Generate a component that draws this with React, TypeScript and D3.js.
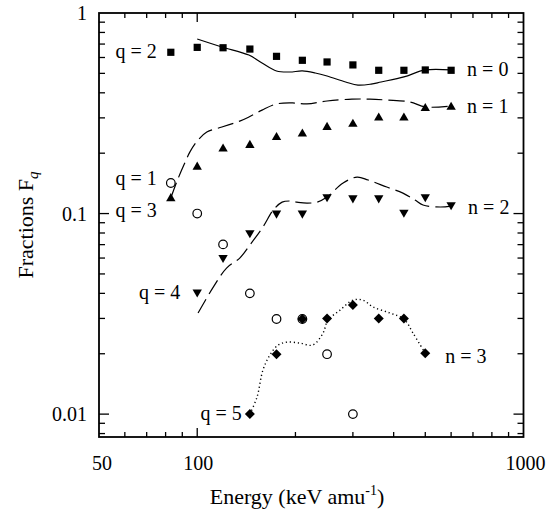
import React from 'react';
import * as d3 from 'd3';

const energies = [83, 100, 120, 145, 175, 210, 250, 300, 360, 430, 500, 600];
const fracN0 = [0.637, 0.674, 0.671, 0.661, 0.608, 0.581, 0.570, 0.551, 0.518, 0.518, 0.520, 0.518];
const fracN1 = [0.1205, 0.173, 0.213, 0.222, 0.243, 0.253, 0.273, 0.283, 0.304, 0.304, 0.339, 0.344];
const energiesN2 = [100, 120, 145, 175, 210, 250, 300, 360, 430, 500, 600];
const fracN2 = [0.040, 0.0595, 0.079, 0.099, 0.099, 0.1195, 0.118, 0.118, 0.100, 0.1195, 0.109];
const energiesN3 = [145, 175, 210, 250, 300, 360, 430, 500];
const fracN3 = [0.0100, 0.0199, 0.0298, 0.0300, 0.0350, 0.0300, 0.0300, 0.0201];
const energiesQ = [83, 100, 120, 145, 175, 210, 250, 300];
const fracQ = [0.142, 0.100, 0.0702, 0.040, 0.0298, 0.0298, 0.0199, 0.0100];

// theory curves
const curveN0E = [100, 119, 144, 158, 175, 192, 210, 230, 250, 285, 311, 341, 366, 430, 500, 600];
const curveN0F = [0.742, 0.677, 0.617, 0.563, 0.514, 0.508, 0.514, 0.502, 0.485, 0.453, 0.437, 0.442, 0.453, 0.480, 0.520, 0.520];
const curveN1E = [83, 87, 91, 95, 100, 107, 119, 135, 144, 158, 175, 196, 217, 250, 298, 338, 381, 449, 500, 600];
const curveN1F = [0.1195, 0.147, 0.1745, 0.203, 0.230, 0.255, 0.270, 0.289, 0.303, 0.328, 0.352, 0.356, 0.352, 0.364, 0.372, 0.372, 0.368, 0.360, 0.340, 0.344];
const curveN2E = [100.6, 112, 123, 135, 145, 159, 171, 182, 192, 202, 217, 233, 250, 280, 309, 334, 381, 427, 465, 492, 555, 600];
const curveN2F = [0.0319, 0.043, 0.0535, 0.060, 0.0697, 0.0857, 0.104, 0.114, 0.1155, 0.114, 0.1128, 0.114, 0.121, 0.142, 0.152, 0.147, 0.1356, 0.1265, 0.1168, 0.1103, 0.1078, 0.109];
const curveN3E = [145, 152.5, 159, 167, 177, 188.5, 206.5, 226, 243, 251.5, 274, 300, 322, 346, 390, 430, 458.5, 500];
const curveN3F = [0.0100, 0.01216, 0.01658, 0.0197, 0.0221, 0.02286, 0.0226, 0.0221, 0.02535, 0.0294, 0.033, 0.037, 0.037, 0.0342, 0.0319, 0.0298, 0.02535, 0.0201];

const xTickLabels = [50, 100, 1000];
const yTickLabels = [0.01, 0.1, 1];

const W = 546;
const H = 514;
const left = 99, right = 523.5, top = 13, bottom = 437;
const FONT = "'Liberation Serif', 'DejaVu Serif', serif";

const x = d3.scaleLog().domain([50, 1000]).range([left, right]);
const y = d3.scaleLog().domain([0.00769, 1]).range([bottom, top]);

const line = d3.line<[number, number]>()
  .x(d => x(d[0]))
  .y(d => y(d[1]))
  .curve(d3.curveCatmullRom.alpha(0.5));

const zip = (a: number[], b: number[]) => a.map((v, i) => [v, b[i]] as [number, number]);

// labels: anchored on a data point, nudged in pixels
const labels = [
  { t: 'q = 2', e: 83, f: 0.637, dx: -14, dy: 6, anchor: 'end' },
  { t: 'q = 1', e: 83, f: 0.142, dx: -14, dy: 2, anchor: 'end' },
  { t: 'q = 3', e: 83, f: 0.1, dx: -14, dy: 3, anchor: 'end' },
  { t: 'q = 4', e: 100, f: 0.040, dx: -17, dy: 6, anchor: 'end' },
  { t: 'q = 5', e: 145, f: 0.01, dx: -8, dy: 6, anchor: 'end' },
  { t: 'n = 0', e: 600, f: 0.518, dx: 16, dy: 6, anchor: 'start' },
  { t: 'n = 1', e: 600, f: 0.344, dx: 16, dy: 7, anchor: 'start' },
  { t: 'n = 2', e: 600, f: 0.109, dx: 17, dy: 8, anchor: 'start' },
  { t: 'n = 3', e: 500, f: 0.0201, dx: 20, dy: 10, anchor: 'start' },
];

const triUp = (s: number) => `M0,${-s * 0.5}L${s * 0.55},${s * 0.45}L${-s * 0.55},${s * 0.45}Z`;
const triDown = (s: number) => `M0,${s * 0.5}L${s * 0.55},${-s * 0.45}L${-s * 0.55},${-s * 0.45}Z`;
const diamond = (s: number) => `M0,${-s}L${s},0L0,${s}L${-s},0Z`;

export default function App() {
  const xMinor = [60, 70, 80, 90, 200, 300, 400, 500, 600, 700, 800, 900];
  const yMinor: number[] = [0.008, 0.009];
  for (let d = 0.01; d < 1; d *= 10) {
    for (let k = 2; k <= 9; k++) yMinor.push(+(d * k).toPrecision(3));
  }

  const tick = { stroke: '#000', strokeWidth: 1.3 };
  const txt = { fontFamily: FONT };

  return (
    <svg width={W} height={H} style={{ position: 'absolute', left: 0, top: 0, background: '#fff' }}>
      {/* ticks, inward on all sides */}
      {xMinor.map(v => (
        <g key={'xm' + v}>
          <line x1={x(v)} x2={x(v)} y1={bottom} y2={bottom - 5} {...tick} />
          <line x1={x(v)} x2={x(v)} y1={top} y2={top + 5} {...tick} />
        </g>
      ))}
      <line x1={x(100)} x2={x(100)} y1={bottom} y2={bottom - 9} {...tick} />
      <line x1={x(100)} x2={x(100)} y1={top} y2={top + 9} {...tick} />
      {yMinor.map(v => (
        <g key={'ym' + v}>
          <line x1={left} x2={left + 6} y1={y(v)} y2={y(v)} {...tick} />
          <line x1={right} x2={right - 6} y1={y(v)} y2={y(v)} {...tick} />
        </g>
      ))}
      {[0.01, 0.1].map(v => (
        <g key={'yM' + v}>
          <line x1={left} x2={left + 10} y1={y(v)} y2={y(v)} {...tick} />
          <line x1={right} x2={right - 10} y1={y(v)} y2={y(v)} {...tick} />
        </g>
      ))}
      <rect x={left} y={top} width={right - left} height={bottom - top} fill="none" stroke="#000" strokeWidth={1.8} />

      {/* tick labels */}
      {xTickLabels.map(v => (
        <text key={'xl' + v} style={txt} x={x(v) + (v === 50 ? 3 : v === 1000 ? 2 : 1)} y={470} fontSize={20} textAnchor="middle">{v}</text>
      ))}
      {yTickLabels.map(v => (
        <text key={'yl' + v} style={txt} x={87} y={y(v) + 7} fontSize={20} textAnchor="end">{v}</text>
      ))}

      {/* axis titles */}
      <text style={txt} x={297} y={504} fontSize={22} textAnchor="middle">
        Energy (keV amu<tspan fontSize={14} dy={-9}>-1</tspan><tspan dy={9}>)</tspan>
      </text>
      <text style={txt} transform="translate(33,225) rotate(-90)" fontSize={22} textAnchor="middle">
        Fractions F<tspan fontSize={15} fontStyle="italic" dy={5}>q</tspan>
      </text>

      {/* theory curves */}
      <path d={line(zip(curveN0E, curveN0F)) || ''} fill="none" stroke="#000" strokeWidth={1.2} />
      <path d={line(zip(curveN1E, curveN1F)) || ''} fill="none" stroke="#000" strokeWidth={1.2} strokeDasharray="16,6" />
      <path d={line(zip(curveN2E, curveN2F)) || ''} fill="none" stroke="#000" strokeWidth={1.2} strokeDasharray="16,6" />
      <path d={line(zip(curveN3E, curveN3F)) || ''} fill="none" stroke="#000" strokeWidth={1.4} strokeDasharray="1.2,2.8" />

      {/* markers */}
      {energiesQ.map((e, i) => (
        <circle key={'q' + i} cx={x(e)} cy={y(fracQ[i])} r={4.3} fill="#fff" stroke="#000" strokeWidth={1.2} />
      ))}
      {energies.map((e, i) => (
        <rect key={'s' + i} x={x(e) - 3.6} y={y(fracN0[i]) - 3.6} width={7.2} height={7.2} fill="#000" />
      ))}
      {energies.map((e, i) => (
        <path key={'u' + i} transform={`translate(${x(e)},${y(fracN1[i])})`} d={triUp(8.5)} fill="#000" />
      ))}
      {energiesN2.map((e, i) => (
        <path key={'d' + i} transform={`translate(${x(e)},${y(fracN2[i])})`} d={triDown(8.5)} fill="#000" />
      ))}
      {energiesN3.map((e, i) => (
        <path key={'m' + i} transform={`translate(${x(e)},${y(fracN3[i])})`} d={diamond(5)} fill="#000" />
      ))}

      {/* labels */}
      {labels.map(l => (
        <text key={l.t} style={txt} x={x(l.e) + l.dx} y={y(l.f) + l.dy} fontSize={20} textAnchor={l.anchor as any}>{l.t}</text>
      ))}
    </svg>
  );
}
